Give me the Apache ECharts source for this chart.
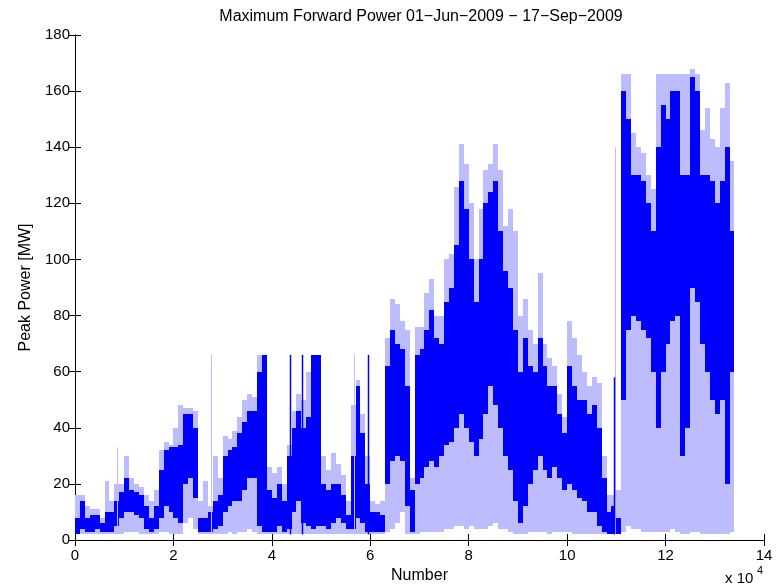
<!DOCTYPE html>
<html>
<head>
<meta charset="utf-8">
<script src="https://cdn.jsdelivr.net/npm/echarts@6/dist/echarts.min.js"></script>
<style>html,body{margin:0;padding:0;background:#fff}#c{width:782px;height:586px}</style>
</head>
<body>
<div id="c"></div>
<script>
// Sample bins of 1000 samples each (bin i covers i*1000 .. (i+1)*1000)
const binSize = 1000;
// outer max per bin (light)
const hiVals = [16,16,12,11,11,8,21,14,20,20,30,22,20,19,16,14,18,32,35,34,
40,48,47,47,46,14,21,12,30,22,37,36,39,44,50,52,51,66,66,26,
24,26,20,34,46,52,50,60,66,66,30,25,31,27,23,14,48,57,45,30,
14,13,14,72,86,84,78,75,22,76,76,88,93,80,80,100,102,126,141,134,
120,100,118,132,134,141,132,112,118,110,80,86,75,70,95,70,65,62,52,44,
78,72,66,60,55,58,56,30,16,16,18,166,166,145,140,138,130,125,166,166,
166,166,166,166,166,168,166,146,154,143,140,154,163,135];
// dense core top per bin (dark)
const topVals = [8,14,8,9,9,6,10,10,14,17,22,18,17,16,12,8,12,25,32,33,
33,34,45,45,40,8,8,10,14,16,30,32,33,38,42,46,46,60,66,18,
15,20,14,30,40,46,40,44,66,66,20,18,20,20,16,9,30,55,38,20,
10,10,9,62,75,70,68,55,18,66,68,75,82,72,70,85,90,105,128,118,
100,85,100,120,124,128,110,96,90,75,60,72,62,60,72,62,55,55,45,38,
62,55,50,50,45,48,40,22,10,12,8,160,150,130,130,128,120,110,140,155,
150,160,160,130,130,165,160,130,130,128,120,128,140,110];
// dense core bottom per bin (dark)
const botVals = [2,4,3,3,4,3,3,3,5,8,10,10,9,8,4,3,4,8,12,10,
8,6,20,22,15,3,3,3,4,5,10,12,14,14,18,22,22,5,3,3,
3,5,3,4,10,14,6,5,4,5,5,4,6,8,6,4,4,8,6,3,
3,3,3,20,28,30,28,12,3,20,22,26,28,26,30,34,35,40,45,40,
35,30,36,45,55,48,40,30,25,14,6,12,20,25,30,25,22,26,22,18,
20,18,15,14,10,10,5,3,2,2,2,50,75,80,78,75,72,60,40,60,
70,78,80,30,40,90,85,70,60,50,45,50,20,60];
// outer min per bin (light)
const loVals = [2,2,2,2,2,2,2,2,2,2,3,3,3,2,2,2,2,3,3,2,
2,2,6,8,4,2,2,2,2,2,2,3,2,3,3,4,3,2,2,2,
2,2,2,2,2,2,2,2,2,2,2,2,2,2,2,2,2,2,2,2,
2,2,2,3,4,6,10,2,2,2,3,3,3,3,3,4,4,5,5,4,
5,4,4,4,5,6,4,4,3,2,2,2,3,3,3,3,2,3,3,3,
3,2,2,2,2,2,2,2,2,2,2,3,5,4,4,3,3,3,3,3,
3,4,3,2,2,3,3,2,2,2,2,2,2,3];
// isolated thin spikes (sample number, peak MW)
const lightSpikeX = [8500, 27600, 56700, 109800];
const lightSpikeY = [33, 66, 66, 140];
const darkSpikeX = [43700, 46100, 59500, 109500];
const darkSpikeY = [66, 66, 66, 58];
const baseLevel = 2;
const xTicks = [0,2,4,6,8,10,12,14];

const bins = hiVals.map((h, i) => [i * binSize, (i + 1) * binSize, loVals[i], botVals[i], topVals[i], h]);
const spikes = lightSpikeX.map((x, i) => [x, lightSpikeY[i], 0])
  .concat(darkSpikeX.map((x, i) => [x, darkSpikeY[i], 1]));

const BLUE = '#0000ff';
const LIGHT = '#bcbcff';
const FONT = 'Liberation Sans, Arial, sans-serif';

const chart = echarts.init(document.getElementById('c'), null, {renderer: 'canvas'});
const axisCommon = {
  axisLine: {show: true, lineStyle: {color: '#000', width: 1}},
  axisTick: {show: true, inside: true, length: 6, lineStyle: {color: '#000'}},
  splitLine: {show: false}
};
chart.setOption({
  animation: false,
  backgroundColor: '#fff',
  grid: {left: 75, right: 18, top: 35, bottom: 46, show: false, containLabel: false, outerBoundsMode: 'none'},
  xAxis: [
    Object.assign({
      type: 'value', min: 0, max: 140000, interval: 20000, position: 'bottom',
      name: 'Number', nameLocation: 'middle', nameGap: 23,
      nameTextStyle: {fontFamily: FONT, fontSize: 16, color: '#000'},
      axisLabel: {fontFamily: FONT, fontSize: 15, color: '#000', margin: 8,
        formatter: v => String(xTicks[Math.round(v / 20000)])}
    }, axisCommon),
    Object.assign({
      type: 'value', min: 0, max: 140000, interval: 20000, position: 'top',
      axisLabel: {show: false}
    }, axisCommon)
  ],
  yAxis: [
    Object.assign({
      type: 'value', min: 0, max: 180, interval: 20, position: 'left',
      name: 'Peak Power [MW]', nameLocation: 'middle', nameGap: 38,
      nameTextStyle: {fontFamily: FONT, fontSize: 16, color: '#000'},
      axisLabel: {fontFamily: FONT, fontSize: 15, color: '#000', margin: 5}
    }, axisCommon),
    Object.assign({
      type: 'value', min: 0, max: 180, interval: 20, position: 'right',
      axisLabel: {show: false}
    }, axisCommon)
  ],
  series: [
    {
      type: 'custom',
      clip: true,
      data: bins,
      encode: {x: [0, 1], y: [2, 3, 4, 5]},
      renderItem: function (params, api) {
        const x0 = Math.round(api.coord([api.value(0), 0])[0]);
        const x1 = Math.round(api.coord([api.value(1), 0])[0]);
        const yLo = Math.round(api.coord([0, api.value(2)])[1]);
        const yBot = Math.round(api.coord([0, api.value(3)])[1]);
        const yTop = Math.round(api.coord([0, api.value(4)])[1]);
        const yHi = Math.round(api.coord([0, api.value(5)])[1]);
        const w = x1 - x0;
        return {
          type: 'group',
          children: [
            {type: 'rect', shape: {x: x0, y: yHi, width: w, height: yLo - yHi}, style: {fill: LIGHT}},
            {type: 'rect', shape: {x: x0, y: yTop, width: w, height: yBot - yTop}, style: {fill: BLUE}}
          ]
        };
      }
    },
    {
      type: 'custom',
      clip: true,
      data: spikes,
      encode: {x: 0, y: 1},
      renderItem: function (params, api) {
        const p1 = api.coord([api.value(0), baseLevel]);
        const p2 = api.coord([api.value(0), api.value(1)]);
        const dark = api.value(2) === 1;
        const x = Math.round(p1[0]) + 0.5;
        return {
          type: 'line',
          shape: {x1: x, y1: p1[1], x2: x, y2: p2[1]},
          style: {stroke: dark ? BLUE : LIGHT, lineWidth: dark ? 1.5 : 1}
        };
      }
    }
  ],
  graphic: [
    {type: 'text', x: 421, y: 17, style: {text: 'Maximum Forward Power 01\u2212Jun\u22122009 \u2212 17\u2212Sep\u22122009',
      fontFamily: FONT, fontSize: 16, fill: '#000', textAlign: 'center', textVerticalAlign: 'middle'}},
    {type: 'text', x: 725, y: 571, style: {text: 'x 10', fontFamily: FONT, fontSize: 15, fill: '#000'}},
    {type: 'text', x: 757, y: 565, style: {text: '4', fontFamily: FONT, fontSize: 11, fill: '#000'}}
  ]
});
</script>
</body>
</html>
